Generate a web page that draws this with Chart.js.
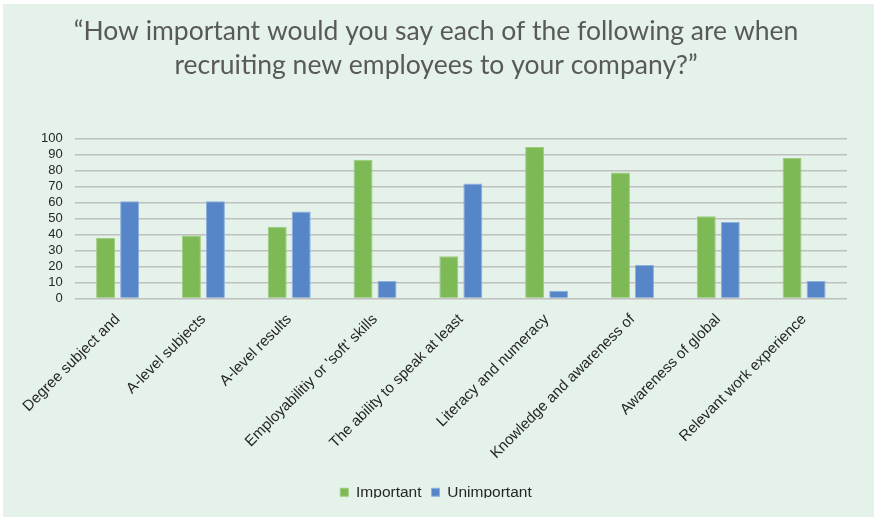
<!DOCTYPE html>
<html>
<head>
<meta charset="utf-8">
<script src="https://cdn.jsdelivr.net/npm/chart.js@4/dist/chart.umd.min.js"></script>
<style>
  html, body { margin: 0; padding: 0; background: #ffffff; }
  #panel {
    position: absolute; left: 3px; top: 4px; width: 871px; height: 513px;
    background: #e4f2ea; overflow: hidden;
  }
  #clip { position: absolute; left: 0; top: 0; width: 871px; height: 494px; overflow: hidden; }
  #wrap { position: absolute; left: 0; top: 0; width: 871px; height: 513px; }
</style>
</head>
<body>
<div id="panel"><div id="clip"><div id="wrap"><canvas id="c"></canvas></div></div></div>
<script>
// Survey attributes shown along the x axis
const categories = [
  'Degree subject and',
  'A-level subjects',
  'A-level results',
  "Employabilitiy or 'soft' skills",
  'The ability to speak at least',
  'Literacy and numeracy',
  'Knowledge and awareness of',
  'Awareness of global',
  'Relevant work experience'
];

// Share of respondents (%) rating each attribute
const important   = [38, 39.5, 45, 87, 26.5, 95, 79, 51.5, 88];
const unimportant = [61, 61, 54.5, 11, 72, 5, 21, 48, 11];

const yTicks = [0, 10, 20, 30, 40, 50, 60, 70, 80, 90, 100];

const titleLines = [
  '\u201CHow important would you say each of the following are when',
  'recruiting new employees to your company?\u201D'
];

const ctx = document.getElementById('c');
new Chart(ctx, {
  type: 'bar',
  data: {
    labels: categories,
    datasets: [
      {
        label: 'Important',
        data: important,
        backgroundColor: '#7db955',
        borderColor: '#9dcc7e',
        borderWidth: 1,
        categoryPercentage: 0.56,
        barPercentage: 0.79
      },
      {
        label: 'Unimportant',
        data: unimportant,
        backgroundColor: '#5686c8',
        borderColor: '#8db0df',
        borderWidth: 1,
        categoryPercentage: 0.56,
        barPercentage: 0.79
      }
    ]
  },
  options: {
    responsive: true,
    maintainAspectRatio: false,
    animation: false,
    layout: { padding: { left: 22, right: 27, top: 6, bottom: 7 } },
    plugins: {
      title: {
        display: true,
        text: titleLines,
        color: '#595959',
        font: { family: 'Lato', size: 26.5, weight: 'normal', lineHeight: 1.3 },
        padding: { top: 4, bottom: 56 }
      },
      legend: {
        position: 'bottom',
        labels: {
          boxWidth: 8,
          boxHeight: 8,
          color: '#262626',
          font: { family: 'Liberation Sans', size: 15.5 },
          padding: 10
        }
      },
      tooltip: { enabled: false }
    },
    scales: {
      x: {
        grid: { display: false, drawTicks: false },
        border: { display: false },
        ticks: {
          maxRotation: 45,
          minRotation: 45,
          autoSkip: false,
          padding: 12,
          color: '#262626',
          font: { family: 'Liberation Sans', size: 15 }
        }
      },
      y: {
        min: 0,
        max: 100,
        afterBuildTicks: (axis) => { axis.ticks = yTicks.map(v => ({ value: v })); },
        afterFit: (axis) => { axis.width += 4; },
        grid: { color: '#bfbfbf', lineWidth: 1.5, drawTicks: false },
        border: { display: false },
        ticks: {
          autoSkip: false,
          padding: 12,
          color: '#262626',
          font: { family: 'Liberation Sans', size: 13 }
        }
      }
    }
  }
});
</script>
</body>
</html>
